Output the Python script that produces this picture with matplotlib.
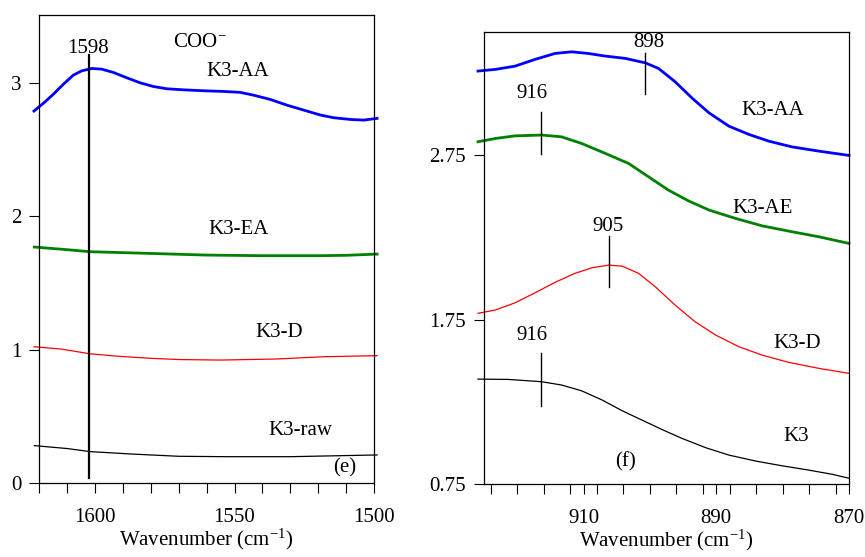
import matplotlib
matplotlib.use("Agg")
import matplotlib.pyplot as plt
from matplotlib.ticker import MultipleLocator, FixedLocator

plt.rcParams['font.family'] = ['Liberation Serif', 'DejaVu Serif']
plt.rcParams['mathtext.fontset'] = 'custom'
plt.rcParams['mathtext.rm'] = 'Liberation Serif'
plt.rcParams['mathtext.default'] = 'regular'

# ---------------- Left panel (e) ----------------
e_aa_x = [1621.9, 1618.6, 1615.0, 1611.4, 1607.8, 1604.8, 1601.2, 1597.6, 1593.4, 1588.6,
          1583.9, 1579.1, 1574.3, 1568.3, 1561.1, 1554.0, 1548.0, 1543.2, 1537.2, 1531.2,
          1525.2, 1519.2, 1514.5, 1508.5, 1503.7, 1498.9]
e_aa_y = [2.787, 2.844, 2.912, 2.987, 3.056, 3.088, 3.106, 3.101, 3.076, 3.036,
          2.999, 2.971, 2.954, 2.946, 2.939, 2.934, 2.927, 2.906, 2.874, 2.831,
          2.794, 2.757, 2.737, 2.724, 2.719, 2.732]
e_ea_x = [1621.8, 1610, 1601.8, 1580, 1560.7, 1540, 1520, 1510, 1498.9]
e_ea_y = [1.768, 1.748, 1.733, 1.72, 1.708, 1.703, 1.703, 1.706, 1.715]
e_d_x = [1621.8, 1612, 1601.8, 1592, 1580, 1570, 1555, 1535, 1518, 1498.9]
e_d_y = [1.021, 1.003, 0.968, 0.950, 0.934, 0.925, 0.921, 0.929, 0.946, 0.954]
e_raw_x = [1621.8, 1610, 1601.8, 1587, 1570, 1553, 1530, 1498.9]
e_raw_y = [0.28, 0.258, 0.235, 0.217, 0.200, 0.197, 0.197, 0.21]
e_peak = 1602
e_xticks = [1600, 1550, 1500]
e_yticks = [0, 1, 2, 3]
e_labels = [(1602.5, 3.255, '1598'), (1562.3, 3.30, 'COO$^{-}$'), (1548.7, 3.08, 'K3-AA'),
            (1548.7, 1.90, 'K3-EA'), (1534, 1.131, 'K3-D'), (1526.4, 0.39, 'K3-raw'),
            (1510.5, 0.112, '(e)')]

# ---------------- Right panel (f) ----------------
f_aa_x = [925.9, 923.3, 920.3, 917.3, 914.3, 911.8, 909.3, 906.7, 903.7, 900.7, 898.7,
          896.2, 893.6, 891.1, 888.1, 885.1, 882.1, 878.6, 874.5, 870.0]
f_aa_y = [3.261, 3.271, 3.291, 3.332, 3.368, 3.378, 3.368, 3.352, 3.338, 3.311, 3.277,
          3.196, 3.095, 3.007, 2.926, 2.876, 2.835, 2.800, 2.774, 2.748]
f_ae_x = [925.9, 923.3, 920.3, 916.3, 913.3, 910.3, 906.7, 903.2, 900.2, 897.2, 894.2,
          891.1, 887.1, 883.1, 879.1, 874.5, 870.0]
f_ae_y = [2.831, 2.851, 2.867, 2.872, 2.861, 2.821, 2.760, 2.699, 2.618, 2.537, 2.472,
          2.416, 2.365, 2.320, 2.288, 2.253, 2.213]
f_d_x = [925.9, 923.3, 920.3, 917.3, 914.3, 911.3, 908.7, 906.2, 904.2, 901.7, 899.2,
         896.2, 893.2, 890.1, 886.6, 883.1, 879.1, 874.5, 870.0]
f_d_y = [1.788, 1.808, 1.852, 1.913, 1.976, 2.031, 2.065, 2.081, 2.075, 2.031, 1.950,
         1.838, 1.737, 1.656, 1.585, 1.534, 1.490, 1.453, 1.423]
f_k3_x = [925.9, 921.3, 916.3, 913.3, 910.3, 907.2, 904.2, 901.2, 898.2, 895.2, 891.6,
          888.1, 884.1, 880.1, 876.1, 872.5, 870.0]
f_k3_y = [1.388, 1.386, 1.372, 1.352, 1.317, 1.261, 1.196, 1.139, 1.082, 1.028, 0.971,
          0.926, 0.890, 0.861, 0.835, 0.809, 0.785]
f_marks_x = [900.8, 916.4, 906.1, 916.4]
f_marks_lo = [3.12, 2.756, 1.95, 1.224]
f_marks_hi = [3.37, 3.013, 2.26, 1.548]
f_labels = [(900.2, 3.437, '898'), (917.7, 3.127, '916'), (906.3, 2.318, '905'),
            (917.7, 1.656, '916'), (881.5, 3.024, 'K3-AA'), (883, 2.428, 'K3-AE'),
            (877.8, 1.607, 'K3-D'), (878, 1.038, 'K3'), (903.7, 0.886, '(f)')]
f_xticks = [910, 890, 870]
f_yticks = [0.75, 1.75, 2.75]

FS = 15
fig = plt.figure(figsize=(8.65, 5.57), dpi=100)

ax1 = fig.add_axes([0.0454, 0.1329, 0.387, 0.840])
ax1.plot(e_aa_x, e_aa_y, color='#0000ff', lw=2.0, clip_on=False)
ax1.plot(e_ea_x, e_ea_y, color='#008000', lw=2.0, clip_on=False)
ax1.plot(e_d_x, e_d_y, color='#ff0000', lw=0.9, clip_on=False)
ax1.plot(e_raw_x, e_raw_y, color='black', lw=0.9, clip_on=False)
ax1.plot([e_peak, e_peak], [0.04, 3.206], color='black', lw=1.6)
ax1.set_xlim(1620, 1500)
ax1.set_ylim(0, 3.506)
ax1.xaxis.set_major_locator(FixedLocator(e_xticks))
ax1.xaxis.set_minor_locator(MultipleLocator(10))
ax1.yaxis.set_major_locator(FixedLocator(e_yticks))
for x, y, t in e_labels:
    ax1.text(x, y, t, ha='center', va='center', fontsize=FS)

ax2 = fig.add_axes([0.5595, 0.131, 0.422, 0.812])
ax2.plot(f_aa_x, f_aa_y, color='#0000ff', lw=2.0, clip_on=False)
ax2.plot(f_ae_x, f_ae_y, color='#008000', lw=2.0, clip_on=False)
ax2.plot(f_d_x, f_d_y, color='#ff0000', lw=0.9, clip_on=False)
ax2.plot(f_k3_x, f_k3_y, color='black', lw=0.9, clip_on=False)
for xm, y0, y1 in zip(f_marks_x, f_marks_lo, f_marks_hi):
    ax2.plot([xm, xm], [y0, y1], color='black', lw=1.0)
for x, y, t in f_labels:
    ax2.text(x, y, t, ha='center', va='center', fontsize=FS)
ax2.set_xlim(925, 870)
ax2.set_ylim(0.75, 3.5)
ax2.xaxis.set_major_locator(FixedLocator(f_xticks))
ax2.xaxis.set_minor_locator(MultipleLocator(4))
ax2.yaxis.set_major_locator(FixedLocator(f_yticks))
ax2.set_yticklabels(['0.75', '1.75', '2.75'])

for ax in (ax1, ax2):
    ax.set_xlabel('Wavenumber (cm$^{-1}$)', fontsize=FS, labelpad=0)
    ax.tick_params(axis='both', which='both', direction='out', length=7, width=0.8,
                   labelsize=FS, top=False, right=False)
    ax.tick_params(axis='x', which='both', pad=11)
    ax.tick_params(axis='y', which='both', pad=6)
    for s in ax.spines.values():
        s.set_linewidth(0.9)

fig.savefig('out.png', dpi=100)
